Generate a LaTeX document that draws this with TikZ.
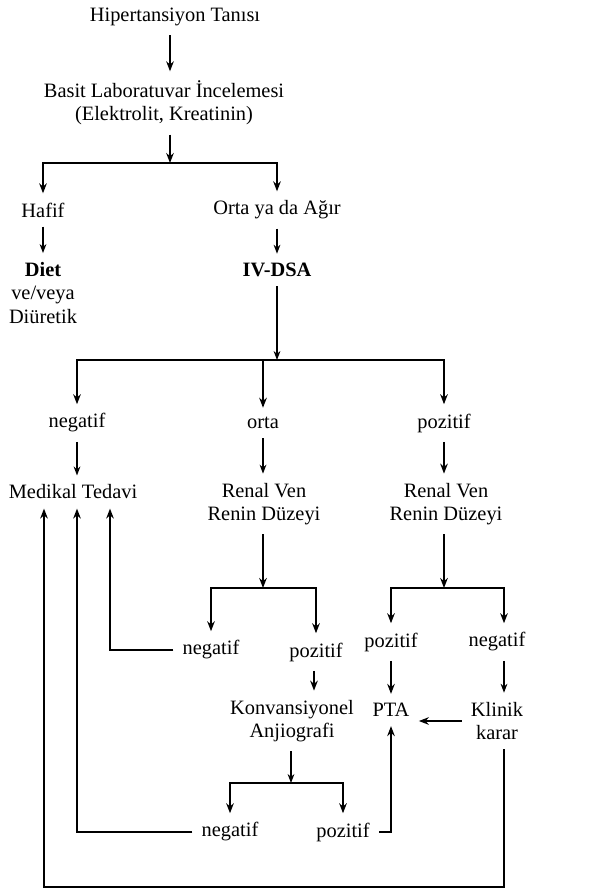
\documentclass[tikz,border=0pt]{standalone}
\usepackage{fontspec}
\setmainfont{Liberation Serif}
\usetikzlibrary{arrows.meta,calc}

\begin{document}
\begin{tikzpicture}[x=0.5pt,y=-0.5pt]
    \tikzstyle{every node}=[font=\fontsize{10.2}{11.7}\selectfont, inner sep=4.5pt, align=center]
    \tikzstyle{arrow}=[thick, -{Stealth[length=5pt,width=3.8pt]}]
    \tikzstyle{thinarrow}=[semithick, -{Stealth[length=4.5pt,width=3.4pt]}]

    \useasboundingbox (0,0) rectangle (592,894);

    % first steps
    \node (diag) at (175,17) {Hipertansiyon Tanısı};
    \node (lab) at (164,103) {Basit Laboratuvar İncelemesi\\(Elektrolit, Kreatinin)};
    \coordinate (s1) at (170,163);
    \node (hafif) at (43,210) {Hafif};
    \node (orta) at (277,210) {Orta ya da Ağır};
    \node (diet) at (43,293) {\textbf{Diet}\\ve/veya\\Diüretik};
    \node (ivdsa) at (277,270) {\textbf{IV-DSA}};

    \draw[arrow] (diag.south -| s1) -- (s1 |- lab.north);
    \draw[arrow] (lab.south -| s1) -- (s1);
    \draw[arrow] (s1) -| (hafif.north);
    \draw[arrow] (s1) -| (orta.north);
    \draw[thinarrow] (hafif) -- (diet);
    \draw[thinarrow] (orta) -- (ivdsa);

    % IV-DSA results
    \coordinate (s2) at (277,360);
    \node (neg1) at (77,423) {negatif};
    \node (orta2) at (263,423) {orta};
    \node (poz1) at (444,423) {pozitif};
    \node (medikal) at (73,492) {Medikal Tedavi};
    \node (renal1) at (264,504) {Renal Ven\\Renin Düzeyi};
    \node (renal2) at (446,504) {Renal Ven\\Renin Düzeyi};

    \draw[thinarrow] (ivdsa) -- (s2);
    \draw[arrow] (s2) -| (neg1.north);
    \draw[arrow] (s2) -| (orta2.north);
    \draw[arrow] (s2) -| (poz1.north);
    \draw[thinarrow] (neg1) -- (neg1 |- medikal.north);
    \draw[thinarrow] (orta2) -- (orta2 |- renal1.north);
    \draw[arrow] (poz1) -- (poz1 |- renal2.north);

    % renin results
    \coordinate (s3) at (263,588);
    \coordinate (s4) at (444,588);
    \node (neg2) at (211,650) {negatif};
    \node (poz2) at (316,652) {pozitif};
    \node (poz3) at (391,642) {pozitif};
    \node (neg3) at (497,642) {negatif};
    \node (konv) at (292,721) {Konvansiyonel\\Anjiografi};
    \node (pta) at (391,710) {PTA};
    \node (klinik) at (497,721) {Klinik\\karar};

    \draw[arrow] (s3 |- renal1.south) -- (s3);
    \draw[arrow] (s3) -| (neg2.north);
    \draw[arrow] (s3) -| (poz2.north);
    \draw[arrow] (s4 |- renal2.south) -- (s4);
    \draw[arrow] (s4) -| (poz3.north);
    \draw[arrow] (s4) -| ($(neg3.north)+(7,0)$);
    \draw[arrow] ($(poz2.south)+(-2,0)$) -- ($(poz2.south |- konv.north)+(-2,0)$);
    \draw[arrow] (poz3) -- (pta);
    \draw[thinarrow] ($(neg3.south)+(7,0)$) -- ($(klinik.north)+(7,0)$);
    \draw[arrow] (klinik.west) -- (klinik.west -| pta.east);

    % angiography results
    \coordinate (s5) at (291,783);
    \node (neg4) at (230,832) {negatif};
    \node (poz4) at (343,832) {pozitif};

    \draw[thinarrow] (konv.south -| s5) -- (s5);
    \draw[arrow] (s5) -| (neg4.north);
    \draw[arrow] (s5) -| (poz4.north);
    \draw[arrow] (poz4.east) -| (pta.south);

    % back to medical treatment
    \coordinate (loop) at (44,887);
    \draw[arrow] (neg2.west) -| ($(medikal.south)+(37,0)$);
    \draw[arrow] (neg4.west) -| ($(medikal.south)+(4,0)$);
    \draw[arrow] ($(klinik.south)+(7,0)$) |- (loop) -- ($(medikal.south)+(-29,0)$);

\end{tikzpicture}
\end{document}
